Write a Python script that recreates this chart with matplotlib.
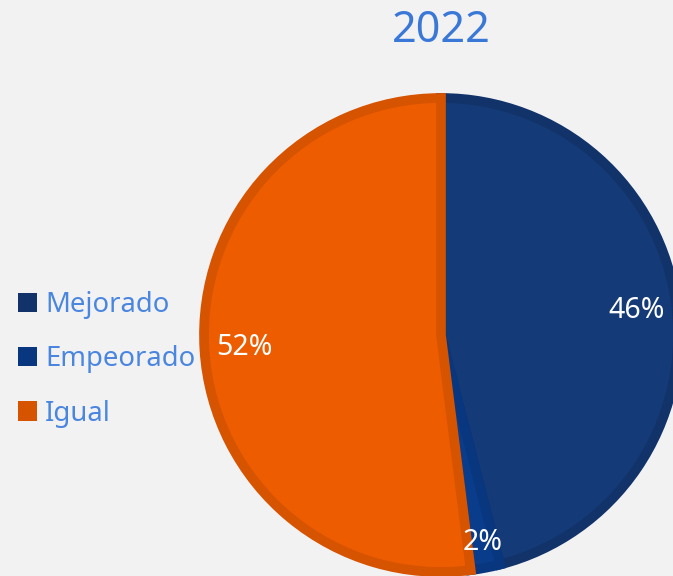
import matplotlib.pyplot as plt
from matplotlib.patches import Patch
import numpy as np

plt.rcParams['font.family'] = ['Noto Sans', 'DejaVu Sans']

labels = ['Mejorado', 'Empeorado', 'Igual']
values = [46, 2, 52]
fills = ['#153a78', '#0a3c8c', '#ee5c00']
edges = ['#12336a', '#08367f', '#d65300']
title = '2022'

fig = plt.figure(figsize=(6.73, 5.76), dpi=100, facecolor='#f2f2f2')
ax = fig.add_axes([0, 0, 1, 1])
ax.set_facecolor('#f2f2f2')

wedges, texts, autotexts = ax.pie(values, colors=fills, startangle=90, counterclock=False,
                                  center=(441, 241), radius=237,
                                  autopct='%1.0f%%', pctdistance=0.83,
                                  wedgeprops=dict(edgecolor='none'),
                                  textprops=dict(color='white', fontsize=20.5))
for w, ec in zip(wedges, edges):
    w.set_edgecolor(ec)
    w.set_linewidth(7)
    w.set_joinstyle('miter')
# small slice label sits further out
autotexts[1].set_position((483, 34))

ax.set_xlim(0, 673)
ax.set_ylim(0, 576)
ax.set_aspect('equal')
ax.axis('off')

fig.text(441 / 673, 1 - 31 / 576, title, ha='center', va='center',
         fontsize=31, color='#3a78d8')

handles = [Patch(facecolor=c, edgecolor='none') for c in edges]
leg = fig.legend(handles, labels, loc='center left', bbox_to_anchor=(0.010, 0.376),
                 frameon=False, fontsize=19.8, handlelength=0.7, handleheight=0.7,
                 handletextpad=0.3, labelspacing=0.95, borderaxespad=0)
for t in leg.get_texts():
    t.set_color('#4a86e0')

fig.savefig('out.png', dpi=100, facecolor=fig.get_facecolor())
